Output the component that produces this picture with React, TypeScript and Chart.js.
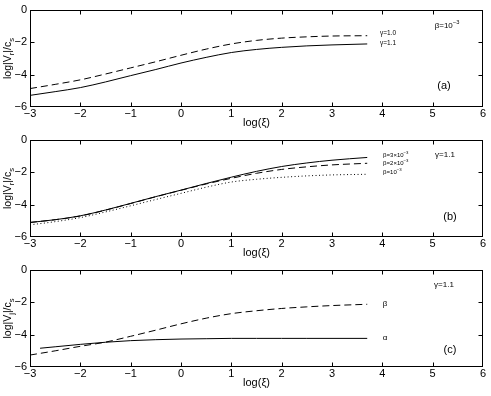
import React, { useEffect, useRef } from "react";
import { Chart, registerables } from "chart.js";
Chart.register(...registerables);

const xTicks = [-3, -2, -1, 0, 1, 2, 3, 4, 5, 6];
const yTicks = [0, -2, -4, -6];

const xs = [-3, -2.5, -2, -1.5, -1, -0.5, 0, 0.5, 1, 1.5, 2, 2.5, 3, 3.7];
const xsAlpha = [-2.8, -2.5, -2, -1.5, -1, -0.5, 0, 0.5, 1, 1.5, 2, 2.5, 3, 3.7];

// panel (a): beta = 1e-3
const aGamma10 = [-4.86, -4.6, -4.32, -3.96, -3.58, -3.2, -2.8, -2.42, -2.1, -1.88, -1.74, -1.66, -1.61, -1.59];
const aGamma11 = [-5.28, -5.05, -4.8, -4.45, -4.06, -3.68, -3.28, -2.93, -2.63, -2.44, -2.31, -2.22, -2.16, -2.1];

// panel (b): gamma = 1.1
const bBeta3 = [-5.1, -4.93, -4.69, -4.33, -3.92, -3.5, -3.1, -2.69, -2.3, -1.94, -1.64, -1.42, -1.25, -1.08];
const bBeta2 = [-5.1, -4.93, -4.7, -4.34, -3.93, -3.51, -3.11, -2.72, -2.37, -2.06, -1.82, -1.66, -1.54, -1.44];
const bBeta1 = [-5.25, -5.05, -4.8, -4.45, -4.07, -3.68, -3.3, -2.92, -2.6, -2.43, -2.31, -2.22, -2.16, -2.12];

// panel (c): gamma = 1.1
const cAlpha = [-4.84, -4.75, -4.6, -4.47, -4.37, -4.31, -4.27, -4.25, -4.23, -4.23, -4.23, -4.23, -4.23, -4.23];
const cBeta = [-5.26, -5.0, -4.72, -4.46, -4.1, -3.72, -3.33, -2.98, -2.7, -2.52, -2.38, -2.28, -2.2, -2.12];

const FONT = '"Liberation Sans", Arial, Helvetica, sans-serif';

type Part = { t: string; sup?: boolean; sub?: boolean };
type Note = { x: number; y: number; parts: Part[]; size: number; align: "left" | "center" };
type Series = { xs: number[]; ys: number[]; dash: number[] };
type Panel = { series: Series[]; yTitle: Part[]; notes: Note[] };

const panels: Panel[] = [
  {
    series: [
      { xs, ys: aGamma10, dash: [7, 4] },
      { xs, ys: aGamma11, dash: [] },
    ],
    yTitle: [{ t: "log|V" }, { t: "r", sub: true }, { t: "|/c" }, { t: "s", sub: true }],
    notes: [
      { x: 5.285, y: -0.99, parts: [{ t: "β=10" }, { t: "−3", sup: true }], size: 8, align: "center" },
      { x: 3.955, y: -1.42, parts: [{ t: "γ=1.0" }], size: 6.5, align: "left" },
      { x: 3.955, y: -2.04, parts: [{ t: "γ=1.1" }], size: 6.5, align: "left" },
      { x: 5.225, y: -4.7, parts: [{ t: "(a)" }], size: 11, align: "center" },
    ],
  },
  {
    series: [
      { xs, ys: bBeta3, dash: [] },
      { xs, ys: bBeta2, dash: [7, 4] },
      { xs, ys: bBeta1, dash: [1, 2.5] },
    ],
    yTitle: [{ t: "log|V" }, { t: "r", sub: true }, { t: "|/c" }, { t: "s", sub: true }],
    notes: [
      { x: 4.015, y: -0.93, parts: [{ t: "β=3×10" }, { t: "−3", sup: true }], size: 6, align: "left" },
      { x: 4.015, y: -1.44, parts: [{ t: "β=2×10" }, { t: "−3", sup: true }], size: 6, align: "left" },
      { x: 4.015, y: -2.02, parts: [{ t: "β=10" }, { t: "−3", sup: true }], size: 6, align: "left" },
      { x: 5.245, y: -0.93, parts: [{ t: "γ=1.1" }], size: 8, align: "center" },
      { x: 5.345, y: -4.78, parts: [{ t: "(b)" }], size: 11, align: "center" },
    ],
  },
  {
    series: [
      { xs: xsAlpha, ys: cAlpha, dash: [] },
      { xs, ys: cBeta, dash: [7, 4] },
    ],
    yTitle: [{ t: "log|V" }, { t: "j", sub: true }, { t: "|/c" }, { t: "s", sub: true }],
    notes: [
      { x: 5.225, y: -0.93, parts: [{ t: "γ=1.1" }], size: 8, align: "center" },
      { x: 4.053, y: -2.12, parts: [{ t: "β" }], size: 8, align: "center" },
      { x: 4.053, y: -4.19, parts: [{ t: "α" }], size: 8, align: "center" },
      { x: 5.345, y: -4.95, parts: [{ t: "(c)" }], size: 11, align: "center" },
    ],
  },
];

function drawRich(ctx: CanvasRenderingContext2D, parts: Part[], x: number, y: number, size: number, align: string) {
  const items = parts.map((p) => {
    const s = p.sup || p.sub ? size * 0.72 : size;
    ctx.font = `${s}px ${FONT}`;
    return { p, s, w: ctx.measureText(p.t).width, dy: p.sup ? -size * 0.4 : p.sub ? size * 0.35 : 0 };
  });
  const total = items.reduce((a, b) => a + b.w, 0);
  let cx = align === "center" ? x - total / 2 : x;
  ctx.textAlign = "left";
  ctx.textBaseline = "middle";
  for (const it of items) {
    ctx.font = `${it.s}px ${FONT}`;
    ctx.fillText(it.p.t, cx, y + it.dy);
    cx += it.w;
  }
}

function makeFramePlugin(panel: Panel) {
  return {
    id: "frame",
    afterDraw(chart: any) {
      const ctx: CanvasRenderingContext2D = chart.ctx;
      const { left, right, top, bottom } = chart.chartArea;
      const sx = chart.scales.x;
      const sy = chart.scales.y;
      ctx.save();
      ctx.strokeStyle = "#000";
      ctx.lineWidth = 1;
      ctx.setLineDash([]);
      const L = Math.round(left) + 0.5;
      const R = Math.round(right) - 0.5;
      const T = Math.round(top) + 0.5;
      const B = Math.round(bottom) - 0.5;
      ctx.strokeRect(L, T, R - L, B - T);
      ctx.beginPath();
      for (const v of xTicks) {
        if (v === xTicks[0] || v === xTicks[xTicks.length - 1]) continue;
        const px = Math.round(sx.getPixelForValue(v)) + 0.5;
        ctx.moveTo(px, B);
        ctx.lineTo(px, B - 4);
        ctx.moveTo(px, T);
        ctx.lineTo(px, T + 4);
      }
      for (const v of yTicks) {
        if (v === 0 || v === -6) continue;
        const py = Math.round(sy.getPixelForValue(v)) + 0.5;
        ctx.moveTo(L, py);
        ctx.lineTo(L + 4, py);
        ctx.moveTo(R, py);
        ctx.lineTo(R - 4, py);
      }
      ctx.stroke();

      ctx.fillStyle = "#000";
      ctx.save();
      ctx.translate(8, (top + bottom) / 2);
      ctx.rotate(-Math.PI / 2);
      drawRich(ctx, panel.yTitle, 0, 0, 10.5, "center");
      ctx.restore();

      for (const n of panel.notes) {
        drawRich(ctx, n.parts, sx.getPixelForValue(n.x), sy.getPixelForValue(n.y), n.size, n.align);
      }
      ctx.restore();
    },
  };
}

function PanelChart({ panel, top }: { panel: Panel; top: number }) {
  const ref = useRef<HTMLCanvasElement | null>(null);
  useEffect(() => {
    if (!ref.current) return;
    const chart = new Chart(ref.current, {
      type: "line",
      data: {
        datasets: panel.series.map((s) => ({
          data: s.xs.map((x, i) => ({ x, y: s.ys[i] })),
          borderColor: "#000",
          borderWidth: 1,
          borderDash: s.dash,
          pointRadius: 0,
          fill: false,
          cubicInterpolationMode: "monotone" as const,
        })),
      },
      options: {
        animation: false,
        responsive: false,
        events: [],
        layout: { padding: { top: 10, right: 8, left: 0, bottom: 0 } },
        plugins: { legend: { display: false }, tooltip: { enabled: false } },
        scales: {
          x: {
            type: "linear",
            min: -3,
            max: 6,
            grid: { display: false, drawTicks: false },
            border: { display: false },
            afterBuildTicks: (s: any) => {
              s.ticks = xTicks.map((v) => ({ value: v }));
            },
            afterFit: (s: any) => {
              s.height = 33;
            },
            ticks: {
              autoSkip: false,
              maxRotation: 0,
              padding: 0,
              color: "#000",
              font: { family: FONT, size: 11 },
              callback: (v: any) => String(v).replace("-", "\u2212"),
            },
            title: {
              display: true,
              text: "log(ξ)",
              color: "#000",
              font: { family: FONT, size: 11 },
              padding: { top: 0, bottom: 10 },
            },
          },
          y: {
            type: "linear",
            min: -6,
            max: 0,
            grid: { display: false, drawTicks: false },
            border: { display: false },
            afterBuildTicks: (s: any) => {
              s.ticks = yTicks.map((v) => ({ value: v }));
            },
            afterFit: (s: any) => {
              s.width = 30;
            },
            ticks: {
              padding: 3,
              color: "#000",
              font: { family: FONT, size: 11 },
              callback: (v: any) => String(v).replace("-", "\u2212"),
            },
          },
        },
      },
      plugins: [makeFramePlugin(panel)],
    } as any);
    return () => chart.destroy();
  }, [panel]);
  return (
    <canvas
      ref={ref}
      width={491}
      height={140}
      style={{ position: "absolute", left: 0, top, width: 491, height: 140 }}
    />
  );
}

export default function App() {
  return (
    <div
      style={{
        position: "absolute",
        left: 0,
        top: 0,
        width: 491,
        height: 396,
        overflow: "hidden",
        background: "#fff",
      }}
    >
      {panels.map((p, i) => (
        <PanelChart key={i} panel={p} top={i * 130} />
      ))}
    </div>
  );
}
